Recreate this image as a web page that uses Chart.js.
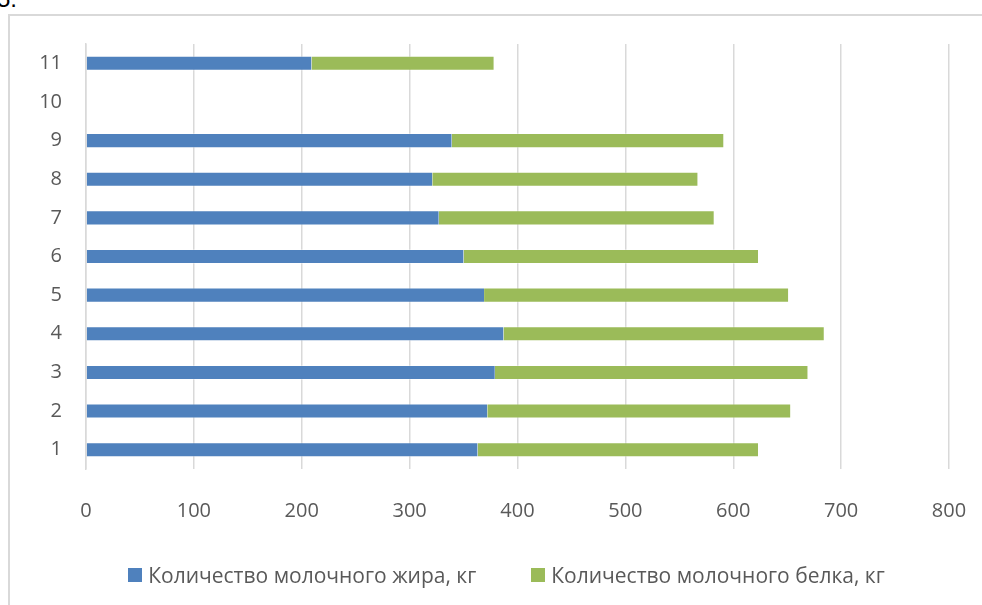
<!DOCTYPE html>
<html>
<head>
<meta charset="utf-8">
<script src="https://cdn.jsdelivr.net/npm/chart.js@4.4.1/dist/chart.umd.min.js"></script>
<style>
  html, body { margin: 0; padding: 0; background: #fff; }
  body { width: 982px; height: 605px; overflow: hidden; position: relative; font-family: 'Open Sans', sans-serif; }
  #num { position: absolute; left: -3px; top: -13px; font: 24px 'Liberation Sans', sans-serif; line-height: 24px; color: #000; }
  #frame { position: absolute; left: 8px; top: 14px; width: 1100px; height: 700px; border: 2px solid #d9d9d9; box-sizing: border-box; }
  #wrap { position: absolute; left: 9px; top: 15px; width: 995px; height: 590px; }
  #legend { position: absolute; left: 9px; top: 562px; width: 995px; height: 26px; display: flex; justify-content: center; align-items: center; font-size: 21px; line-height: 26px; color: #595959; white-space: nowrap; }
  #legend .item { display: flex; align-items: center; }
  #legend .item + .item { margin-left: 55px; }
  #legend .box { width: 14px; height: 14px; margin-right: 6px; }
</style>
</head>
<body>
<div id="num">5.</div>
<div id="frame"></div>
<div id="wrap"><canvas id="chart"></canvas></div>
<div id="legend"></div>
<script>
// Cow numbers along the vertical axis (10 has no record)
const categories = ['1', '2', '3', '4', '5', '6', '7', '8', '9', '10', '11'];
// Milk fat yield, kg
const milkFat = [363, 372, 379, 387, 369, 350, 327, 321, 339, null, 209];
// Milk protein yield, kg
const milkProtein = [260, 281, 290, 297, 282, 273, 255, 246, 252, null, 169];
const seriesNames = ['Количество молочного жира, кг', 'Количество молочного белка, кг'];
const seriesColors = ['#4F81BD', '#9BBB59'];
const xMin = 0, xMax = 800, xStep = 100;

const tickFont = { family: "'Open Sans', sans-serif", size: 20 };
const edge = { top: 1, bottom: 1, left: 0, right: 0 };

const chart = new Chart(document.getElementById('chart'), {
  type: 'bar',
  data: {
    labels: categories,
    datasets: [
      { label: seriesNames[0], data: milkFat, backgroundColor: seriesColors[0],
        borderColor: 'rgba(255,255,255,0.35)', borderWidth: edge, borderSkipped: false },
      { label: seriesNames[1], data: milkProtein, backgroundColor: seriesColors[1],
        borderColor: 'rgba(255,255,255,0.35)', borderWidth: edge, borderSkipped: false }
    ]
  },
  options: {
    indexAxis: 'y',
    responsive: true,
    maintainAspectRatio: false,
    animation: false,
    barPercentage: 0.39,
    categoryPercentage: 1,
    layout: { padding: { left: 0, right: 55, top: 29, bottom: 0 } },
    plugins: { legend: { display: false }, tooltip: { enabled: false } },
    scales: {
      x: {
        stacked: true,
        min: xMin, max: xMax,
        ticks: { stepSize: xStep, color: '#595959', font: tickFont, padding: 30, maxRotation: 0 },
        grid: { color: '#d9d9d9', lineWidth: 1.5, drawTicks: false },
        border: { display: false },
        afterFit: s => { s.height = 136; }
      },
      y: {
        stacked: true,
        reverse: true,
        ticks: { color: '#595959', font: tickFont, padding: 24 },
        grid: { display: false, drawTicks: false },
        border: { color: '#d9d9d9', width: 1.5 },
        afterFit: s => { s.width = 77; s.paddingTop = 0; s.paddingBottom = 0; }
      }
    }
  }
});

// Legend built from the chart's own datasets
const legendEl = document.getElementById('legend');
chart.data.datasets.forEach(ds => {
  const item = document.createElement('div');
  item.className = 'item';
  const box = document.createElement('span');
  box.className = 'box';
  box.style.background = ds.backgroundColor;
  const txt = document.createElement('span');
  txt.textContent = ds.label;
  item.appendChild(box);
  item.appendChild(txt);
  legendEl.appendChild(item);
});
</script>
</body>
</html>
